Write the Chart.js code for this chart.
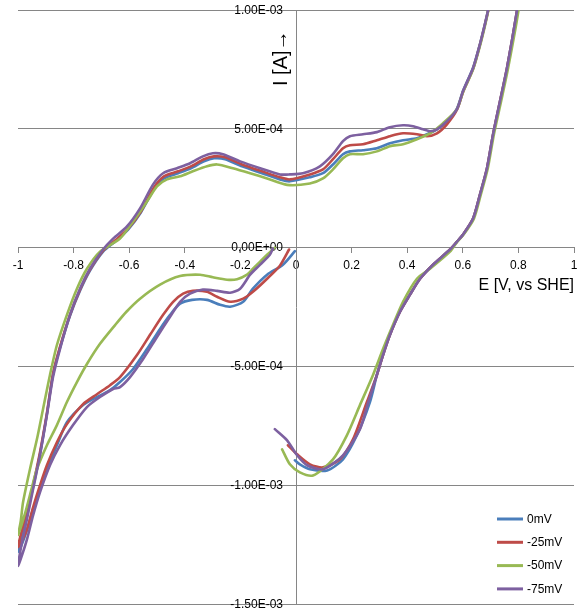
<!DOCTYPE html>
<html>
<head>
<meta charset="utf-8">
<script src="https://cdn.jsdelivr.net/npm/chart.js@4.4.1/dist/chart.umd.min.js"></script>
<style>
html,body{margin:0;padding:0;background:#fff;}
#wrap{width:585px;height:614px;position:relative;}
</style>
</head>
<body>
<div id="wrap"><canvas id="c" width="585" height="614"></canvas></div>
<script>
// Series labels
const seriesLabels = ['0mV', '-25mV', '-50mV', '-75mV'];
const seriesColors = ['#4A7EBB', '#BE4B48', '#98B954', '#7D60A0'];

// Tick labels
const xTickLabels = ['-1', '-0.8', '-0.6', '-0.4', '-0.2', '0', '0.2', '0.4', '0.6', '0.8', '1'];
const yTickLabels = ['-1.50E-03', '-1.00E-03', '-5.00E-04', '0,00E+00', '5.00E-04', '1.00E-03'];

// Current values are in units of 1e-4 A; potential in V vs SHE.
// 0mV
const e0 = [-0.004,-0.047,-0.104,-0.155,-0.19,-0.237,-0.273,-0.32,-0.374,-0.417,-0.453,-0.489,-0.536,-0.586,-0.633,-0.669,-0.716,-0.766,-0.824,-0.86,-0.896,-0.921,-0.946,-0.968,-0.99,-1.0,
  -0.986,-0.968,-0.946,-0.921,-0.896,-0.874,-0.849,-0.813,-0.777,-0.741,-0.694,-0.651,-0.604,-0.558,-0.511,-0.475,-0.424,-0.378,-0.331,-0.295,-0.255,-0.194,-0.122,-0.058,-0.022,
  0.05,0.097,0.133,0.169,0.194,0.241,0.291,0.338,0.385,0.435,0.471,0.507,0.543,0.579,0.601,0.637,0.662,0.68,0.694,0.74,
  0.82,0.795,0.759,0.734,0.709,0.687,0.662,0.637,0.601,0.579,0.554,0.493,0.446,0.41,0.374,0.338,0.313,0.291,0.266,0.219,0.169,0.112,0.05,0.014,-0.004];
const i0 = [-0.15,-0.72,-1.14,-1.73,-2.28,-2.49,-2.41,-2.2,-2.2,-2.36,-2.83,-3.42,-4.27,-5.11,-5.66,-6.0,-6.29,-6.63,-7.35,-8.32,-9.33,-10.18,-11.02,-11.9,-12.6,-12.8,
  -12.1,-11.2,-10.1,-8.7,-7.01,-5.32,-4.22,-2.87,-1.82,-0.97,-0.17,0.25,0.76,1.48,2.45,2.91,3.13,3.34,3.63,3.76,3.72,3.42,3.13,2.87,2.79,
  2.96,3.13,3.5,3.93,4.05,4.1,4.18,4.39,4.52,4.6,4.77,4.98,5.3,5.85,6.6,7.57,8.58,9.43,10.15,12.5,
  12.0,9.97,7.56,6.17,4.77,3.34,2.24,1.22,0.55,0.25,-0.08,-0.72,-1.31,-1.98,-2.7,-3.67,-4.52,-5.36,-6.5,-7.9,-8.91,-9.38,-9.33,-9.12,-8.95];

// -25mV
const e25 = [-0.025,-0.058,-0.104,-0.155,-0.19,-0.237,-0.284,-0.32,-0.371,-0.406,-0.442,-0.478,-0.525,-0.572,-0.633,-0.669,-0.716,-0.766,-0.824,-0.86,-0.896,-0.921,-0.946,-0.968,-0.99,-1.0,
  -0.986,-0.968,-0.946,-0.921,-0.896,-0.874,-0.849,-0.813,-0.777,-0.741,-0.694,-0.651,-0.604,-0.558,-0.511,-0.475,-0.424,-0.378,-0.331,-0.295,-0.255,-0.194,-0.122,-0.058,-0.022,
  0.05,0.097,0.133,0.169,0.194,0.241,0.291,0.338,0.385,0.435,0.471,0.507,0.543,0.579,0.601,0.637,0.662,0.68,0.694,0.74,
  0.82,0.795,0.759,0.734,0.709,0.687,0.662,0.637,0.601,0.579,0.554,0.493,0.446,0.41,0.374,0.338,0.313,0.291,0.255,0.205,0.158,0.097,0.05,0.004,-0.029];
const i25 = [-0.08,-0.76,-1.31,-1.86,-2.15,-2.28,-2.07,-1.86,-1.82,-1.94,-2.28,-2.83,-3.67,-4.52,-5.45,-5.79,-6.17,-6.59,-7.43,-8.19,-9.16,-10.01,-10.94,-11.87,-12.45,-12.6,
  -11.9,-11.1,-10.0,-8.62,-6.97,-5.32,-4.18,-2.83,-1.77,-0.93,-0.13,0.3,0.8,1.52,2.53,3.0,3.21,3.42,3.72,3.84,3.8,3.5,3.21,2.96,2.87,
  3.08,3.29,3.72,4.18,4.31,4.35,4.52,4.69,4.81,4.77,4.69,4.81,5.19,5.8,6.55,7.52,8.55,9.4,10.12,12.5,
  12.0,9.97,7.56,6.17,4.77,3.34,2.24,1.22,0.55,0.25,-0.08,-0.72,-1.31,-1.98,-2.7,-3.67,-4.52,-5.36,-6.5,-8.07,-8.91,-9.25,-9.12,-8.7,-8.32];

// -50mV
const e50 = [-0.076,-0.104,-0.129,-0.155,-0.176,-0.212,-0.248,-0.299,-0.345,-0.417,-0.489,-0.561,-0.61,-0.65,-0.705,-0.752,-0.788,-0.824,-0.86,-0.896,-0.932,-0.95,-0.975,-1.0,
  -0.99,-0.982,-0.957,-0.932,-0.91,-0.885,-0.86,-0.824,-0.788,-0.752,-0.705,-0.633,-0.586,-0.536,-0.5,-0.464,-0.417,-0.371,-0.32,-0.284,-0.227,-0.165,-0.104,-0.032,
  0.05,0.097,0.133,0.169,0.194,0.241,0.291,0.338,0.385,0.435,0.482,0.529,0.579,0.601,0.637,0.662,0.68,0.694,0.74,
  0.82,0.8,0.763,0.738,0.712,0.69,0.665,0.64,0.603,0.58,0.554,0.482,0.435,0.385,0.349,0.313,0.277,0.23,0.183,0.133,0.061,0.014,-0.022,-0.05];
const i50 = [0.0,-0.3,-0.59,-0.89,-1.14,-1.33,-1.35,-1.25,-1.14,-1.2,-1.56,-2.15,-2.7,-3.25,-4.05,-4.9,-5.66,-6.5,-7.47,-8.32,-9.33,-10.1,-11.2,-12.1,
  -11.5,-10.73,-9.33,-8.07,-6.8,-5.36,-4.1,-2.83,-1.73,-0.89,-0.17,0.38,1.1,1.94,2.58,2.87,3.0,3.21,3.42,3.5,3.34,3.13,2.91,2.64,
  2.7,2.91,3.29,3.76,3.93,3.93,4.05,4.27,4.35,4.56,4.81,5.24,5.83,6.55,7.5,8.5,9.35,10.1,12.5,
  12.2,9.97,7.56,6.17,4.77,3.34,2.24,1.22,0.55,0.25,-0.17,-0.89,-1.31,-2.28,-3.25,-4.27,-5.36,-6.63,-7.9,-8.91,-9.59,-9.46,-9.12,-8.49];

// -75mV
const e75 = [-0.083,-0.094,-0.129,-0.165,-0.201,-0.237,-0.284,-0.335,-0.381,-0.417,-0.453,-0.5,-0.55,-0.597,-0.633,-0.658,-0.705,-0.752,-0.802,-0.849,-0.885,-0.921,-0.946,-0.968,-0.99,-1.0,
  -0.986,-0.968,-0.946,-0.921,-0.896,-0.874,-0.849,-0.813,-0.777,-0.741,-0.694,-0.658,-0.608,-0.561,-0.514,-0.478,-0.428,-0.381,-0.335,-0.299,-0.263,-0.201,-0.129,-0.058,-0.022,
  0.025,0.086,0.133,0.169,0.194,0.241,0.291,0.338,0.385,0.421,0.457,0.482,0.507,0.543,0.579,0.601,0.637,0.662,0.68,0.694,0.74,
  0.82,0.795,0.759,0.734,0.709,0.687,0.662,0.637,0.601,0.579,0.554,0.493,0.446,0.41,0.374,0.338,0.313,0.291,0.26,0.23,0.169,0.097,0.04,0.004,-0.032,-0.076];
const i75 = [-0.04,-0.3,-0.72,-1.14,-1.73,-1.9,-1.82,-1.77,-1.94,-2.28,-2.91,-3.76,-4.69,-5.45,-5.87,-5.95,-6.29,-6.71,-7.47,-8.32,-9.16,-10.3,-11.28,-12.29,-13.1,-13.39,
  -12.42,-11.44,-10.18,-8.74,-7.05,-5.45,-4.27,-2.83,-1.73,-0.89,-0.08,0.38,0.89,1.65,2.66,3.13,3.34,3.55,3.84,3.97,3.93,3.63,3.34,3.08,3.08,
  3.13,3.42,3.93,4.48,4.69,4.77,4.86,5.07,5.15,5.11,4.98,4.9,4.98,5.32,5.83,6.59,7.56,8.57,9.42,10.14,12.5,
  12.0,9.97,7.56,6.17,4.77,3.34,2.24,1.22,0.55,0.25,-0.08,-0.72,-1.31,-1.98,-2.7,-3.67,-4.52,-5.36,-6.5,-7.64,-8.74,-9.33,-9.16,-8.74,-8.11,-7.64];

const seriesE = [e0, e25, e50, e75];
const seriesI = [i0, i25, i50, i75];

const FONT = '"Liberation Sans", Arial, sans-serif';

const datasets = seriesLabels.map((lab, k) => ({
  label: lab,
  data: seriesE[k].map((e, j) => ({x: e, y: seriesI[k][j] * 1e-4})),
  borderColor: seriesColors[k],
  backgroundColor: seriesColors[k],
  borderWidth: 2.6,
  pointRadius: 0,
  showLine: true,
  tension: 0.25,
  borderJoinStyle: 'round',
  borderCapStyle: 'round',
  order: seriesLabels.length - k
}));

const axisText = {
  id: 'axisText',
  beforeDatasetsDraw(chart) {
    const ctx = chart.ctx;
    const xs = chart.scales.x, ys = chart.scales.y;
    const x0 = xs.getPixelForValue(0);
    ctx.save();
    ctx.fillStyle = '#000';
    ctx.font = '12px ' + FONT;
    ctx.textAlign = 'right';
    ctx.textBaseline = 'middle';
    ys.ticks.forEach((t, idx) => {
      ctx.fillText(yTickLabels[idx], x0 - 13, ys.getPixelForValue(t.value) + 0.5);
    });
    ctx.restore();
  },
  afterDraw(chart) {
    const ctx = chart.ctx;
    ctx.save();
    ctx.fillStyle = '#000';
    ctx.font = '20px ' + FONT;
    ctx.textAlign = 'left';
    ctx.textBaseline = 'alphabetic';
    ctx.translate(287, 86);
    ctx.rotate(-Math.PI / 2);
    ctx.fillText('I [A]\u2192', 0, 0);
    ctx.restore();
    ctx.save();
    ctx.fillStyle = '#000';
    ctx.font = '16px ' + FONT;
    ctx.textAlign = 'right';
    ctx.textBaseline = 'alphabetic';
    ctx.fillText('E [V, vs SHE]', 574, 290);
    // legend
    ctx.font = '12px ' + FONT;
    ctx.textAlign = 'left';
    ctx.textBaseline = 'middle';
    chart.data.datasets.forEach((ds, k) => {
      const y = 519 + k * 23.3;
      ctx.strokeStyle = ds.borderColor;
      ctx.lineWidth = 3;
      ctx.beginPath();
      ctx.moveTo(497, y);
      ctx.lineTo(523, y);
      ctx.stroke();
      ctx.fillStyle = '#000';
      ctx.fillText(ds.label, 527, y + 0.5);
    });
    ctx.restore();
  }
};

new Chart(document.getElementById('c'), {
  type: 'scatter',
  data: { datasets },
  options: {
    responsive: false,
    animation: false,
    layout: { padding: { left: 18, right: 11, top: 10, bottom: 10 } },
    plugins: { legend: { display: false }, tooltip: { enabled: false } },
    scales: {
      x: {
        type: 'linear',
        position: { y: 0 },
        min: -1, max: 1,
        grid: { drawOnChartArea: false, drawTicks: true, tickLength: 5, color: '#868686', lineWidth: 1 },
        border: { display: true, color: '#868686', width: 1 },
        ticks: {
          stepSize: 0.2,
          padding: 6,
          color: '#000',
          font: { family: FONT, size: 12 },
          maxRotation: 0,
          autoSkip: false,
          callback: (v, idx) => xTickLabels[idx]
        }
      },
      y: {
        type: 'linear',
        position: { x: 0 },
        min: -1.5e-3, max: 1e-3,
        grid: { drawOnChartArea: true, drawTicks: false, color: '#868686', lineWidth: 1 },
        border: { display: true, color: '#868686', width: 1 },
        ticks: {
          display: false,
          stepSize: 5e-4,
          autoSkip: false
        }
      }
    }
  },
  plugins: [axisText]
});
</script>
</body>
</html>
